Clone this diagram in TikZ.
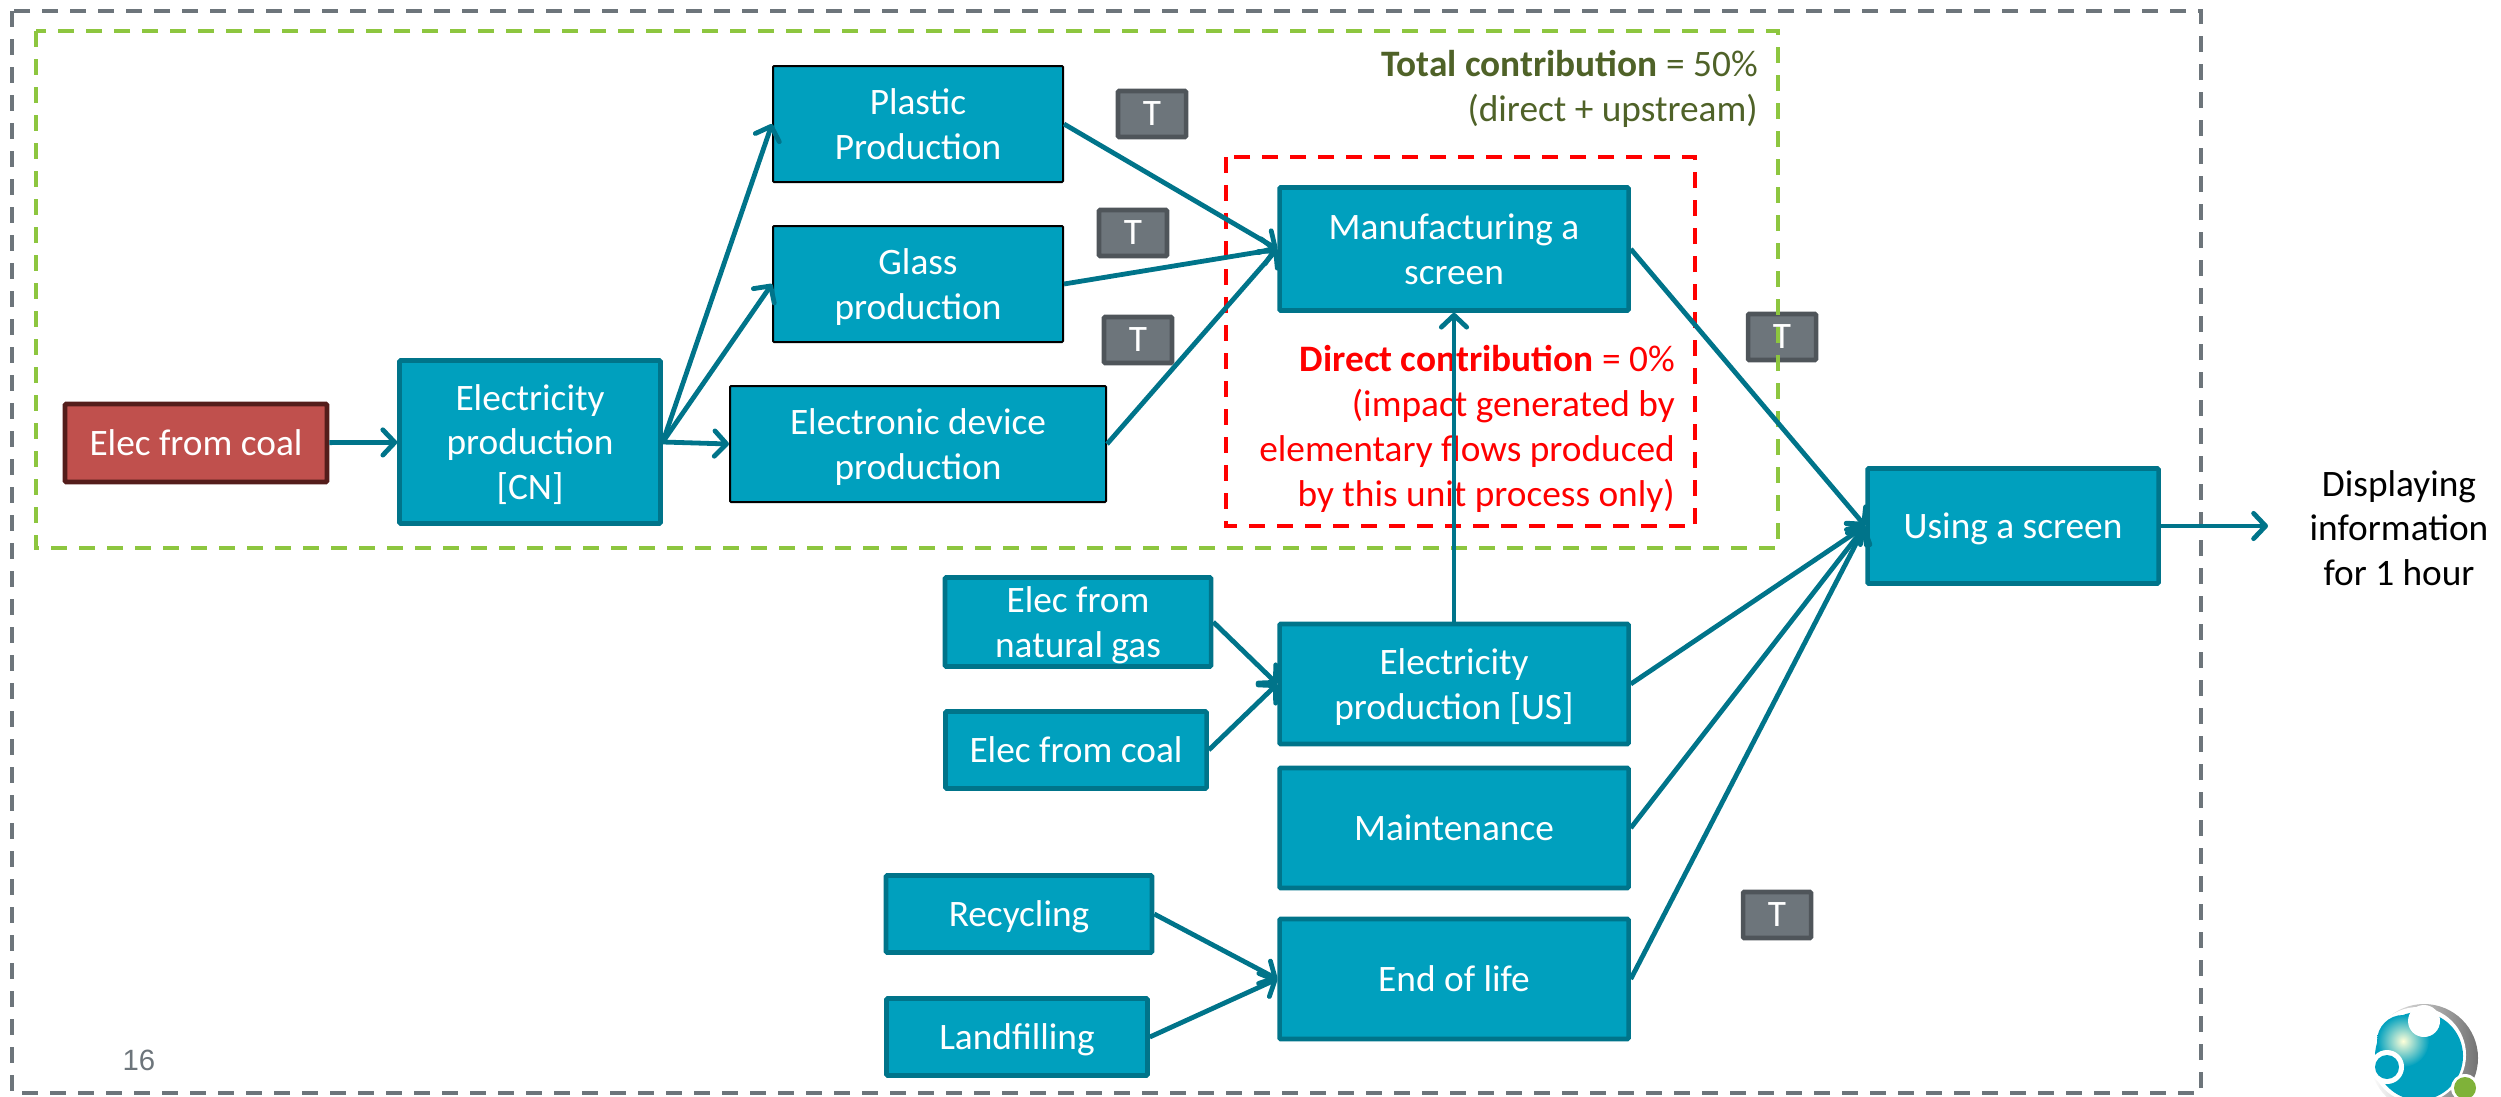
\documentclass[tikz,border=0pt]{standalone}
\usepackage{fontspec}
\setmainfont{Carlito}
\newfontfamily\pagefont{Liberation Sans}
\usetikzlibrary{arrows.meta}
\definecolor{procfill}{HTML}{00A0BE}
\definecolor{procedge}{HTML}{00748A}
\definecolor{coalfill}{HTML}{C0504D}
\definecolor{coaledge}{HTML}{541D1B}
\definecolor{tagfill}{HTML}{6D757B}
\definecolor{tagedge}{HTML}{4F555A}
\definecolor{totalgreen}{HTML}{4F6228}
\definecolor{dashgreen}{HTML}{8DC63F}
\definecolor{dashgrey}{HTML}{6D757B}
\tikzset{
  sized/.style 2 args={minimum width=#1*0.75pt,minimum height=#2*0.75pt},
  basebox/.style={rectangle,rounded corners=0.8pt,align=center,text=white,inner sep=0pt,text depth=0pt,font=\fontsize{28}{33.5}\selectfont},
  procbox/.style={basebox,fill=procfill,draw=procedge,line width=3.4pt},
  thinbox/.style={basebox,fill=procfill,draw=black,line width=1.5pt},
  coalbox/.style={basebox,fill=coalfill,draw=coaledge,line width=3.4pt},
  tagbox/.style={basebox,fill=tagfill,draw=tagedge,line width=3.4pt,sized={68}{46}},
  flow/.style={draw=procedge,line width=3.6pt,-{Straight Barb[length=9pt,width=19pt,round]}},
  dashframe/.style={line width=2.8pt,dash pattern=on 12pt off 9pt},
  note/.style={anchor=east,align=right,inner sep=0pt,font=\fontsize{28}{33.7}\selectfont},
}
\begin{document}
\begin{tikzpicture}[x=0.75pt,y=0.75pt,yscale=-1,xscale=1]
\useasboundingbox (0,0) rectangle (2501,1096);

% Shape: outer frame
\draw [dashframe,draw=dashgrey] (12,11) rectangle (2201,1093);

% Text Node
\draw (1152,114) node [tagbox] (tagplastic) {T};
% Text Node
\draw (1133,233) node [tagbox] (tagglass) {T};
% Text Node
\draw (1138,340) node [tagbox] (tagdevice) {T};
% Text Node
\draw (1782,337) node [tagbox] (tagscreen) {T};
% Text Node
\draw (1777,915) node [tagbox] (tagend) {T};

% Shape: total contribution frame
\draw [dashframe,draw=dashgreen] (36,31) rectangle (1778,548);
% Shape: direct contribution frame
\draw [dashframe,draw=red] (1226,157) rectangle (1695,526);

% Text Node
\draw (196,443) node [coalbox,sized={262}{78}] (coalcn) {Elec from coal};
% Text Node
\draw (530,442) node [procbox,sized={261}{163}] (elecn) {Electricity\\production\\{[CN]}};
% Text Node
\draw (918,124) node [thinbox,sized={290}{116}] (plastic) {Plastic\\Production};
% Text Node
\draw (918,284) node [thinbox,sized={290}{116}] (glass) {Glass\\production};
% Text Node
\draw (918,444) node [thinbox,sized={376}{116}] (device) {Electronic device\\production};
% Text Node
\draw (1454,249) node [procbox,sized={349}{123}] (manuf) {Manufacturing a\\screen};
% Text Node
\draw (1078,622) node [procbox,sized={266}{89}] (natgas) {Elec from\\natural gas};
% Text Node
\draw (1076,750) node [procbox,sized={261}{77}] (coalus) {Elec from coal};
% Text Node
\draw (1454,684) node [procbox,sized={349}{120}] (elecus) {Electricity\\production [US]};
% Text Node
\draw (1454,828) node [procbox,sized={349}{120}] (maint) {Maintenance};
% Text Node
\draw (1454,979) node [procbox,sized={349}{120}] (endlife) {End of life};
% Text Node
\draw (1019,914) node [procbox,sized={266}{77}] (recycle) {Recycling};
% Text Node
\draw (1017,1037) node [procbox,sized={261}{77}] (landfill) {Landfilling};
% Text Node
\draw (2013,526) node [procbox,sized={291}{115}] (screen) {Using a screen};
% Text Node
\draw (2399,528) node [align=center,inner sep=0pt,font=\fontsize{28}{33.5}\selectfont] (output) {Displaying\\information\\for 1 hour};
% Text Node
\draw (1758,89) node [note,text=totalgreen] (totaltxt) {\textbf{Total contribution} = 50\%\\(direct + upstream)};
% Text Node
\draw (1675,429) node [note,text=red] (directtxt) {\textbf{Direct contribution} = 0\%\\(impact generated by\\elementary flows produced\\by this unit process only)};
% Text Node
\draw (139,1060) node [inner sep=0pt,text=dashgrey,font=\pagefont\fontsize{22}{26}\selectfont] (pagenum) {16};
\coordinate (outtip) at (2268,526);

% Connection
\draw [flow] (coalcn) -- (elecn);
% Connection
\draw [flow] (elecn.east) -- (plastic.west);
% Connection
\draw [flow] (elecn.east) -- (glass.west);
% Connection
\draw [flow] (elecn.east) -- (device.west);
% Connection
\draw [flow] (plastic.east) -- (manuf.west);
% Connection
\draw [flow] (glass.east) -- (manuf.west);
% Connection
\draw [flow] (device.east) -- (manuf.west);
% Connection
\draw [flow] (elecus.north) -- (manuf.south);
% Connection
\draw [flow] (natgas.east) -- (elecus.west);
% Connection
\draw [flow] (coalus.east) -- (elecus.west);
% Connection
\draw [flow] (recycle.east) -- (endlife.west);
% Connection
\draw [flow] (landfill.east) -- (endlife.west);
% Connection
\draw [flow] (manuf.east) -- (screen.west);
% Connection
\draw [flow] (elecus.east) -- (screen.west);
% Connection
\draw [flow] (maint.east) -- (screen.west);
% Connection
\draw [flow] (endlife.east) -- (screen.west);
% Connection
\draw [flow] (screen.east) -- (outtip);

% Logo
\shade [left color=white,right color=black!55] (2424,1058) circle [radius=54];
\fill [white] (2418,1055) circle [radius=48];
\fill [procfill] (2419,1056) circle [radius=44];
\shade [inner color=white!85!yellow,outer color=procfill] (2403,1041) circle [radius=26];
\fill [white] (2424,1021) circle [radius=16];
\fill [white] (2387,1067) circle [radius=17];
\fill [procfill] (2387,1067) circle [radius=12];
\fill [white] (2465,1088) circle [radius=14];
\fill [dashgreen!90!black] (2465,1088) circle [radius=11];

\end{tikzpicture}
\end{document}
